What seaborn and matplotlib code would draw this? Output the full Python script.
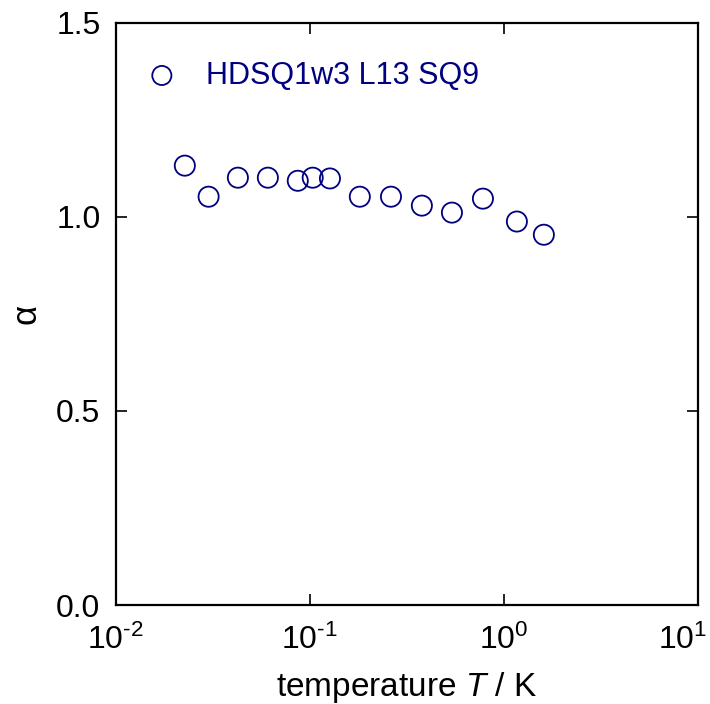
import matplotlib
matplotlib.use("Agg")
import matplotlib.pyplot as plt
import matplotlib.transforms as mtransforms
import seaborn as sns
import numpy as np
import pandas as pd

temperature = [0.0227, 0.0301, 0.0426, 0.0608, 0.0867, 0.1035, 0.127, 0.181, 0.262, 0.378, 0.540, 0.780, 1.167, 1.607]
alpha_vals = [1.132, 1.052, 1.101, 1.101, 1.093, 1.101, 1.099, 1.052, 1.052, 1.029, 1.011, 1.047, 0.988, 0.954]
series_label = "HDSQ1w3 L13 SQ9"
x_ticks = [1e-2, 1e-1, 1e0, 1e1]
x_tick_labels = [r"$10^{\text{-}2}$", r"$10^{\text{-}1}$", r"$10^{0}$", r"$10^{1}$"]
y_ticks = [0.0, 0.5, 1.0, 1.5]

df = pd.DataFrame({"T": temperature, "alpha": alpha_vals})

sns.set_theme(style="ticks")
plt.rcParams['font.family'] = ['Liberation Sans', 'DejaVu Sans']
plt.rcParams['mathtext.fontset'] = 'custom'
plt.rcParams['mathtext.rm'] = 'Liberation Sans'
plt.rcParams['mathtext.it'] = 'Liberation Sans:italic'
plt.rcParams['mathtext.default'] = 'regular'
plt.rcParams['axes.unicode_minus'] = False
plt.rcParams['text.color'] = 'black'
plt.rcParams['axes.labelcolor'] = 'black'

fig = plt.figure(figsize=(7.10, 7.04), dpi=100)
ax = fig.add_axes([0.163, 0.1406, 0.820, 0.827])

navy = '#000080'
sns.scatterplot(data=df, x="T", y="alpha", ax=ax, marker='o', s=14.5**2,
                facecolors='none', edgecolor=navy, linewidth=1.3,
                label=series_label)

ax.set_xscale('log')
ax.set_xlim(1e-2, 1e1)
ax.set_ylim(0, 1.5)
ax.set_xticks(x_ticks)
ax.set_xticklabels(x_tick_labels)
ax.set_yticks(y_ticks)
ax.set_yticklabels([f"{v:.1f}" for v in y_ticks])
ax.xaxis.set_minor_locator(matplotlib.ticker.NullLocator())

ax.tick_params(which='major', direction='in', length=8, width=1.2,
               top=True, right=True, labelsize=23, colors='black')
ax.tick_params(axis='x', pad=14)
ax.tick_params(axis='y', pad=11)
for s in ax.spines.values():
    s.set_linewidth(1.6)
    s.set_color('black')

# shift last x tick label slightly left so it stays inside the figure
lbls = ax.get_xticklabels()
off = mtransforms.ScaledTranslation(-15/100, 0, fig.dpi_scale_trans)
lbls[-1].set_transform(lbls[-1].get_transform() + off)

ax.set_xlabel(r"temperature $\mathit{T}$ / K", fontsize=24, labelpad=10)
ax.set_ylabel("α", fontsize=25, labelpad=10)

leg = ax.legend(loc='upper left', frameon=False, fontsize=22,
                bbox_to_anchor=(-0.01, 0.972), handletextpad=0.45,
                borderaxespad=0.3, markerscale=0.95)
for t in leg.get_texts():
    t.set_color(navy)

fig.savefig("out.png", dpi=100)
